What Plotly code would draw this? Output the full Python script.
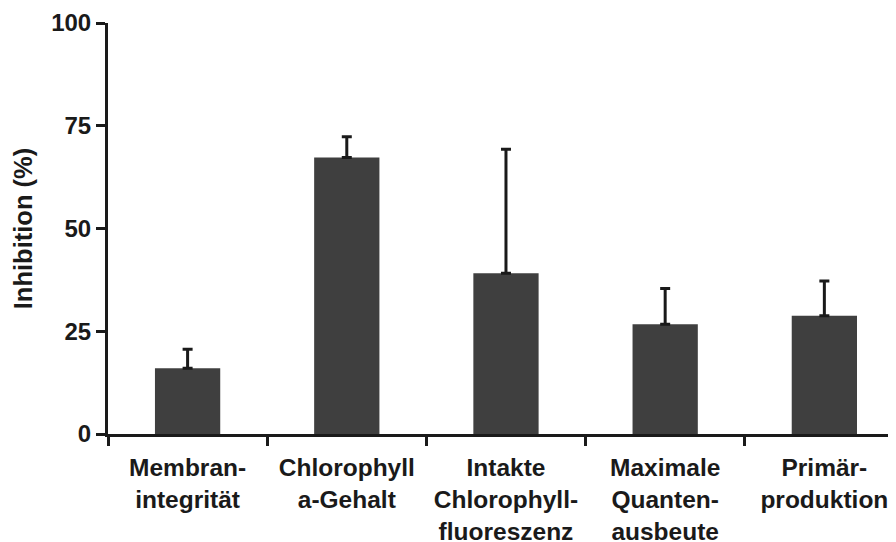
import plotly.graph_objects as go

categories = ["Membran-<br>integrität", "Chlorophyll<br>a-Gehalt",
              "Intakte<br>Chlorophyll-<br>fluoreszenz",
              "Maximale<br>Quanten-<br>ausbeute", "Primär-<br>produktion"]
values = [16.0, 67.3, 39.1, 26.7, 28.8]
errors = [4.6, 5.0, 30.2, 8.7, 8.4]
y_ticks = [0, 25, 50, 75, 100]

FONT = "Liberation Sans, Arial, Helvetica, sans-serif"
INK = "#1a1a1a"

fig = go.Figure()
fig.add_trace(go.Bar(
    x=categories, y=values,
    marker=dict(color="#3f3f3f", line=dict(width=0)),
    error_y=dict(type="data", array=errors, arrayminus=[0] * len(errors),
                 symmetric=False, color=INK, thickness=3, width=5),
    width=0.41,
))

# the page body has an 8 px margin, so the figure is sized to fit the window
fig.update_layout(
    width=888, height=534,
    margin=dict(l=100, r=0, t=15, b=108, autoexpand=False),
    paper_bgcolor="white", plot_bgcolor="white",
    font=dict(family=FONT, size=25, color=INK, weight="bold"),
    showlegend=False,
    xaxis=dict(
        type="category", range=[-0.5, 4.45],
        showline=True, linecolor=INK, linewidth=3,
        ticks="outside", ticklen=9, tickwidth=3, tickcolor=INK,
        tickson="boundaries", showgrid=False, zeroline=False,
        tickangle=0, automargin=False,
        ticklabelstandoff=10,
        tickfont=dict(family=FONT, size=24.5, color=INK, weight="bold"),
    ),
    yaxis=dict(
        range=[0, 100], tickvals=y_ticks,
        showline=True, linecolor=INK, linewidth=3,
        ticks="outside", ticklen=9, tickwidth=3, tickcolor=INK,
        showgrid=False, zeroline=False, automargin=False,
        tickfont=dict(family=FONT, size=24, color=INK, weight="bold"),
        title=dict(text="Inhibition (%)", standoff=12,
                   font=dict(family=FONT, size=25.5, color=INK, weight="bold")),
    ),
)

fig.write_html("out.html")
